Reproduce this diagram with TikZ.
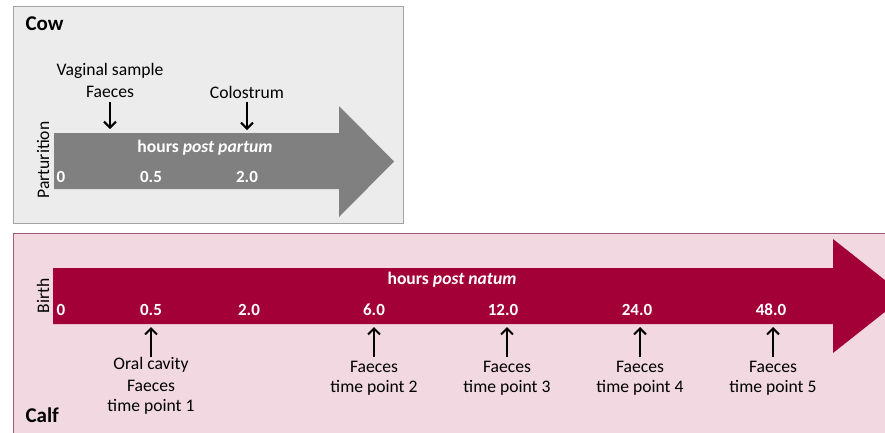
\documentclass[tikz,border=0pt]{standalone}
\usepackage{fontspec}
\setmainfont{Carlito}
\usetikzlibrary{arrows.meta}
\definecolor{cowfill}{HTML}{ECECEC}
\definecolor{cowline}{HTML}{A3A3A3}
\definecolor{cowarrow}{HTML}{808080}
\definecolor{calffill}{HTML}{F1D8E1}
\definecolor{calfline}{HTML}{9E5C78}
\definecolor{calfarrow}{HTML}{A30037}
\tikzset{
  title/.style={anchor=base west, font=\fontsize{21}{23}\selectfont\bfseries},
  lbl/.style={font=\fontsize{17.6}{19}\selectfont, inner sep=0pt},
  tick/.style={font=\fontsize{17}{19}\selectfont\bfseries, text=white, inner sep=0pt},
  axis/.style={font=\fontsize{17.6}{19}\selectfont\bfseries, text=white, inner sep=0pt},
  side/.style={font=\fontsize{17.6}{19}\selectfont, rotate=90, inner sep=0pt},
  sample/.style={line width=2pt, -{Straight Barb[length=6pt,width=12pt,line width=2pt]}}
}
\begin{document}
\begin{tikzpicture}[x=1pt,y=-1pt]
\useasboundingbox (0,0) rectangle (885,432);
\fill[white] (0,0) rectangle (885,432);
\begin{scope}
\clip (0,0) rectangle (885,432);

% cow panel
\draw[fill=cowfill, draw=cowline, line width=1pt] (13,6) rectangle (403,223);
\fill[cowarrow] (54,133) -- (339,133) -- (339,106) -- (394,161.5) -- (339,217)
  -- (339,189) -- (54,189) -- cycle;
\node[title] (cow) at (22,30) {Cow};
\node[side] (part) at (43,160) {Parturition};
\node[axis] (hpp) at (205,148) {hours \textit{post partum}};
\node[tick] (c0) at (61,177) {0};
\node[tick] (c05) at (151,177) {0.5};
\node[tick] (c2) at (247,177) {2.0};
\node[lbl] (vag) at (110,71) {Vaginal sample};
\node[lbl] (cfae) at (110,92) {Faeces};
\node[lbl] (colo) at (247,92) {Colostrum};
\coordinate (cfaeE) at (110,129);
\coordinate (coloE) at (247,130);
\draw[sample] (cfae.south |- 0,102) -- (cfaeE);
\draw[sample] (colo.south |- 0,102) -- (coloE);

% calf panel
\draw[fill=calffill, draw=calfline, line width=1pt] (13,233) rectangle (900,450);
\fill[calfarrow] (53,268) -- (833,268) -- (833,239) -- (905,296) -- (833,353)
  -- (833,324) -- (53,324) -- cycle;
\node[title] (calf) at (22,422) {Calf};
\node[side] (birth) at (43,296) {Birth};
\node[axis] (hpn) at (452,280) {hours \textit{post natum}};
\node[tick] (k0) at (61,310) {0};
\node[tick] (k05) at (151,310) {0.5};
\node[tick] (k2) at (249,310) {2.0};
\node[tick] (k6) at (374,310) {6.0};
\node[tick] (k12) at (503,310) {12.0};
\node[tick] (k24) at (637,310) {24.0};
\node[tick] (k48) at (771,310) {48.0};

\node[lbl] (t1a) at (151,365) {Oral cavity};
\node[lbl] (t1b) at (151,386) {Faeces};
\node[lbl] (t1c) at (151,407) {time point 1};
\node[lbl] (t2a) at (374,367) {Faeces};
\node[lbl] (t2b) at (374,388) {time point 2};
\node[lbl] (t3a) at (507,367) {Faeces};
\node[lbl] (t3b) at (507,388) {time point 3};
\node[lbl] (t4a) at (640,367) {Faeces};
\node[lbl] (t4b) at (640,388) {time point 4};
\node[lbl] (t5a) at (773,367) {Faeces};
\node[lbl] (t5b) at (773,388) {time point 5};

\coordinate (e1) at (151,327);
\coordinate (e2) at (374,327);
\coordinate (e3) at (507,327);
\coordinate (e4) at (640,327);
\coordinate (e5) at (773,327);
\draw[sample] (t1a.north |- 0,357) -- (e1);
\draw[sample] (t2a.north |- 0,357) -- (e2);
\draw[sample] (t3a.north |- 0,357) -- (e3);
\draw[sample] (t4a.north |- 0,357) -- (e4);
\draw[sample] (t5a.north |- 0,357) -- (e5);
\end{scope}
\end{tikzpicture}
\end{document}
